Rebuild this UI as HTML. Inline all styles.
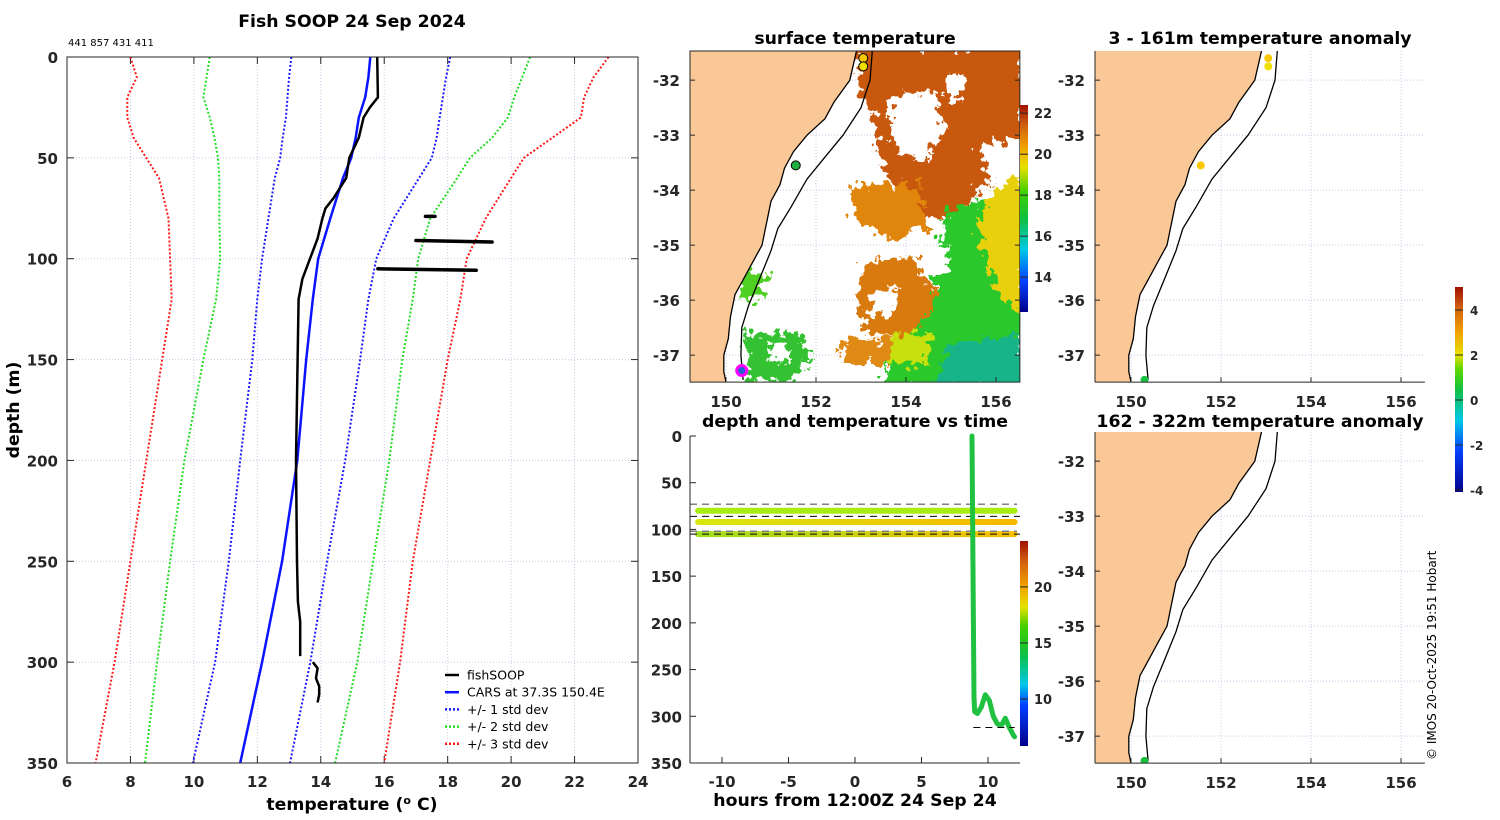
<!DOCTYPE html>
<html><head><meta charset="utf-8">
<style>
html,body{margin:0;padding:0;background:#fff;}
svg{display:block;font-family:"DejaVu Sans","Liberation Sans",sans-serif;}
.tk{font-size:15px;font-weight:bold;fill:#262626;}
.ttl{font-size:17.3px;font-weight:bold;fill:#000;}
</style></head>
<body>
<svg id="fig" width="1500" height="820" viewBox="0 0 1500 820" xmlns="http://www.w3.org/2000/svg">
<defs>
<linearGradient id="sstg" x1="0" y1="1" x2="0" y2="0">
<stop offset="0" stop-color="#00008b"/><stop offset="0.15" stop-color="#0040ff"/><stop offset="0.3" stop-color="#00c8e8"/><stop offset="0.45" stop-color="#10c040"/><stop offset="0.58" stop-color="#40d000"/><stop offset="0.7" stop-color="#e8e000"/><stop offset="0.8" stop-color="#f0a000"/><stop offset="0.9" stop-color="#d06010"/><stop offset="1" stop-color="#a01000"/>
</linearGradient>
<linearGradient id="tg" x1="0" y1="1" x2="0" y2="0">
<stop offset="0" stop-color="#00008b"/><stop offset="0.2" stop-color="#0040ff"/><stop offset="0.3" stop-color="#00c8e8"/><stop offset="0.45" stop-color="#10c040"/><stop offset="0.58" stop-color="#40d000"/><stop offset="0.68" stop-color="#e8e000"/><stop offset="0.78" stop-color="#f0a000"/><stop offset="0.9" stop-color="#d06010"/><stop offset="1" stop-color="#a01000"/>
</linearGradient>
<linearGradient id="ag" x1="0" y1="1" x2="0" y2="0">
<stop offset="0" stop-color="#00008b"/><stop offset="0.2" stop-color="#0040ff"/><stop offset="0.35" stop-color="#00c8e8"/><stop offset="0.5" stop-color="#10c040"/><stop offset="0.6" stop-color="#60d800"/><stop offset="0.67" stop-color="#e8e000"/><stop offset="0.78" stop-color="#f0a000"/><stop offset="0.9" stop-color="#d06010"/><stop offset="1" stop-color="#a01000"/>
</linearGradient>
<filter id="rag" x="0" y="0" width="1" height="1"><feTurbulence type="fractalNoise" baseFrequency="0.12" numOctaves="3" seed="3"/><feDisplacementMap in="SourceGraphic" scale="26" xChannelSelector="R" yChannelSelector="G"/></filter>
<clipPath id="c1"><rect x="690" y="51" width="330" height="331"/></clipPath>
<clipPath id="c3"><rect x="1095" y="51" width="330" height="331"/></clipPath>
<clipPath id="c4"><rect x="1095" y="432" width="330" height="331"/></clipPath>
</defs>

<text x="352" y="27" text-anchor="middle" class="ttl">Fish SOOP 24 Sep 2024</text>
<text x="68" y="46" font-size="10" fill="#000">441 857 431 411</text>
<g id="p1"></g>
<text transform="translate(19,410) rotate(-90)" text-anchor="middle" class="ttl">depth (m)</text>
<text x="352" y="810" text-anchor="middle" class="ttl">temperature (<tspan font-size="11" dy="-6">o</tspan><tspan dy="6"> C)</tspan></text>

<text x="855" y="44" text-anchor="middle" class="ttl">surface temperature</text>
<g id="m1"></g>
<text x="855" y="427" text-anchor="middle" class="ttl">depth and temperature vs time</text>
<g id="p2"></g>
<text x="855" y="806" text-anchor="middle" class="ttl">hours from 12:00Z 24 Sep 24</text>

<text x="1260" y="44" text-anchor="middle" class="ttl">3 - 161m temperature anomaly</text>
<g id="m3"></g>
<text x="1260" y="427" text-anchor="middle" class="ttl">162 - 322m temperature anomaly</text>
<g id="m4"></g>
<g id="acb"></g>
<text transform="translate(1436,760) rotate(-90)" font-size="12" fill="#000">© IMOS 20-Oct-2025 19:51 Hobart</text>
</svg>
<script>
// ---------- data ----------
const depthLevels=[0,10,20,30,40,50,60,80,100,120,150,200,250,300,350];
const carsMean=[15.56,15.5,15.4,15.2,15.1,14.96,14.7,14.3,13.92,13.75,13.54,13.26,12.78,12.15,11.46];
const plus1=[18.08,17.95,17.85,17.75,17.65,17.5,17.1,16.3,15.75,15.5,15.24,14.77,14.2,13.67,13.03];
const minus1=[13.07,13.0,12.95,12.9,12.8,12.72,12.55,12.35,12.15,12.0,11.84,11.46,11.1,10.67,9.97];
const plus2=[20.6,20.35,20.1,19.9,19.4,18.7,18.3,17.45,17.07,16.9,16.57,16.16,15.65,15.15,14.45];
const minus2=[10.5,10.4,10.3,10.5,10.65,10.76,10.8,10.8,10.83,10.7,10.3,9.7,9.25,8.84,8.46];
const plus3=[23.07,22.6,22.3,22.2,21.3,20.4,20.0,19.2,18.6,18.4,18.0,17.45,16.9,16.5,16.0];
const minus3=[8.0,8.2,7.9,7.9,8.1,8.5,8.9,9.2,9.25,9.3,9.0,8.5,8.0,7.5,6.9];
const fishDepth=[0,20,25,30,40,50,60,70,75,80,90,100,110,120,150,200,250,270,280,297];
const fishTemp=[15.78,15.8,15.55,15.35,15.2,14.9,14.8,14.4,14.15,14.05,13.9,13.66,13.42,13.3,13.27,13.22,13.25,13.28,13.35,13.35];
const fishDepth2=[300,303,308,312,316,320];
const fishTemp2=[13.75,13.9,13.85,13.95,13.95,13.9];
const blobDepth=[79,91,105];
const blobT0=[17.3,17.0,15.8];
const blobT1=[17.6,19.4,18.9];
const tempTicks=[6,8,10,12,14,16,18,20,22,24];
const depthTicks=[0,50,100,150,200,250,300,350];
// time panel
const bandDepth=[80,92,105];
const bandColL=["#a8ec10","#d8e810","#a0e020"];
const bandColR=["#a8ec10","#f8b800","#f8c000"];
const castHours=[8.8,8.85,8.9,8.95,9.0,9.2,9.5,9.8,10.1,10.4,10.7,11.0,11.3,11.6,11.9,12.0];
const castDepth=[0,100,200,280,295,297,290,277,283,300,308,310,302,312,320,322];
const dashGray=[73,102];
const dashBlack=[86,105];
const hourTicks=[-10,-5,0,5,10];
// maps
const coastLon=[152.9,152.75,152.4,152.2,151.8,151.5,151.3,151.2,151.0,150.9,150.8,150.6,150.4,150.2,150.1,150.05,149.95,149.95,150.0];
const coastLat=[-31.47,-32.0,-32.4,-32.7,-33.0,-33.3,-33.6,-33.9,-34.2,-34.6,-35.0,-35.3,-35.6,-35.9,-36.3,-36.7,-37.0,-37.3,-37.49];
const shelfLon=[153.25,153.2,153.0,152.6,152.2,151.8,151.45,151.15,151.0,150.75,150.5,150.35,150.33,150.38];
const shelfLat=[-31.47,-32.0,-32.5,-33.0,-33.4,-33.8,-34.3,-34.7,-35.1,-35.6,-36.1,-36.5,-37.0,-37.45];
const lonTicks=[150,152,154,156];
const latTicks=[-32,-33,-34,-35,-36,-37];
const sstTicks=[14,16,18,20,22];
const anomTicks=[-4,-2,0,2,4];
const timeCbTicks=[10,15,20];
const anomLon=[153.05,153.05,151.55,150.3];
const anomLat=[-31.6,-31.75,-33.55,-37.45];
const anomCol=["#f8c800","#f0e000","#f8c800","#18c040"];
const sstStnLon=[153.05,153.05,151.55,150.35];
const sstStnLat=[-31.6,-31.75,-33.55,-37.28];
const sstStnCol=["#f8c800","#f0e000","#20b040","#2060d0"];

// ---------- helpers ----------
const NS="http://www.w3.org/2000/svg";
function mk(parent,tag,attrs){const e=document.createElementNS(NS,tag);for(const k in attrs)e.setAttribute(k,attrs[k]);parent.appendChild(e);return e;}
function txt(parent,x,y,s,anchor,cls){const t=mk(parent,"text",{x:x,y:y,"text-anchor":anchor,"class":cls});t.textContent=s;return t;}

// ---------- profile panel ----------
const p1=document.getElementById("p1");
const xT=t=>67+(t-6)*(571/18);
const yD=d=>57+d*(706/350);
tempTicks.forEach(t=>{
  const g=mk(p1,"line",{x1:xT(t),x2:xT(t),y1:57,y2:763,stroke:"#c8c8e6","stroke-width":1,"stroke-dasharray":"1,2"});
  
  
  mk(p1,"line",{x1:xT(t),x2:xT(t),y1:763,y2:756,stroke:"#262626"});
  mk(p1,"line",{x1:xT(t),x2:xT(t),y1:57,y2:64,stroke:"#262626"});
  const l=txt(p1,xT(t),787,String(t),"middle","tk");
  
  
});
depthTicks.forEach(d=>{
  const g=mk(p1,"line",{x1:67,x2:638,y1:yD(d),y2:yD(d),stroke:"#c8c8e6","stroke-width":1,"stroke-dasharray":"1,2"});
  
  
  mk(p1,"line",{x1:67,x2:74,y1:yD(d),y2:yD(d),stroke:"#262626"});
  mk(p1,"line",{x1:631,x2:638,y1:yD(d),y2:yD(d),stroke:"#262626"});
  const l=txt(p1,58,yD(d)+6,String(d),"end","tk");
  
  
});
function prof(temps,depths,col,w,dash,name){
  const pts=temps.map((t,i)=>xT(t).toFixed(1)+","+yD(depths[i]).toFixed(1)).join(" ");
  const e=mk(p1,"polyline",{points:pts,fill:"none",stroke:col,"stroke-width":w,"stroke-linejoin":"round"});
  if(dash)e.setAttribute("stroke-dasharray",dash);
  
  
}
prof(plus3,depthLevels,"#ff1a1a",2,"2,2","plus3-std-line");
prof(minus3,depthLevels,"#ff1a1a",2,"2,2","minus3-std-line");
prof(plus2,depthLevels,"#22dd22",2,"2,2","plus2-std-line");
prof(minus2,depthLevels,"#22dd22",2,"2,2","minus2-std-line");
prof(plus1,depthLevels,"#1a1aff",2,"2,2","plus1-std-line");
prof(minus1,depthLevels,"#1a1aff",2,"2,2","minus1-std-line");
prof(carsMean,depthLevels,"#0a14ff",2.5,null,"cars-mean-line");
prof(fishTemp,fishDepth,"#000",2.5,null,"fishsoop-line");
prof(fishTemp2,fishDepth2,"#000",2.5,null,"fishsoop-line-deep");
blobDepth.forEach((d,i)=>{
  const e=mk(p1,"line",{x1:xT(blobT0[i]),x2:xT(blobT1[i]),y1:yD(d),y2:yD(d)+(i?1.5:0),stroke:"#000","stroke-width":3.5,"stroke-linecap":"round"});
  
  
});
mk(p1,"rect",{x:67,y:57,width:571,height:706,fill:"none",stroke:"#262626","stroke-width":1});
const legItems=[["fishSOOP","#000",null],["CARS at 37.3S 150.4E","#0a14ff",null],["+/- 1 std dev","#1a1aff","2,2"],["+/- 2 std dev","#22dd22","2,2"],["+/- 3 std dev","#ff1a1a","2,2"]];
const leg=mk(p1,"g",{});


legItems.forEach((it,i)=>{
  const y=675+i*17.2;
  const l=mk(leg,"line",{x1:445,x2:459,y1:y,y2:y,stroke:it[1],"stroke-width":2.5});
  if(it[2])l.setAttribute("stroke-dasharray",it[2]);
  const t=mk(leg,"text",{x:467,y:y+4.5,"font-size":12.5,fill:"#000"});t.textContent=it[0];
  
  
});

// ---------- map helpers ----------
function mapPanel(gid,x0,y0,clip,boxed){
  const g=document.getElementById(gid);
  const X=lon=>x0+(lon-149.2)*45;
  const Y=lat=>y0+(-31.47-lat)*55;
  return {g,X,Y,clip,boxed,x0,y0};
}
function drawMapBase(m,withSst){
  const {g,X,Y}=m;
  const cg=mk(g,"g",{"clip-path":"url(#"+m.clip+")"});
  lonTicks.forEach(l=>{mk(cg,"line",{x1:X(l),x2:X(l),y1:Y(-31.47),y2:Y(-37.49),stroke:"#c8c8e6","stroke-dasharray":"1,2"});});
  latTicks.forEach(l=>{mk(cg,"line",{x1:X(149.2),x2:X(156.53),y1:Y(l),y2:Y(l),stroke:"#c8c8e6","stroke-dasharray":"1,2"});});
  if(withSst)withSst(cg,X,Y);
  let pts=coastLon.map((l,i)=>X(l).toFixed(1)+","+Y(coastLat[i]).toFixed(1)).join(" ");
  const land=mk(cg,"polygon",{points:X(149.2)+","+Y(-31.47)+" "+pts+" "+X(149.2)+","+Y(-37.49),fill:"#fac896",stroke:"none"});
  
  
  const cl=mk(cg,"polyline",{points:pts,fill:"none",stroke:"#000","stroke-width":1.3});
  
  
  const sh=mk(cg,"polyline",{points:shelfLon.map((l,i)=>X(l).toFixed(1)+","+Y(shelfLat[i]).toFixed(1)).join(" "),fill:"none",stroke:"#000","stroke-width":1.3});
  
  
  const x1=X(149.2),x2=X(156.53),y1=Y(-31.47),y2=Y(-37.49);
  if(m.boxed)mk(g,"rect",{x:x1,y:y1,width:x2-x1,height:y2-y1,fill:"none",stroke:"#262626"});
  else{mk(g,"line",{x1:x1,x2:x1,y1:y1,y2:y2,stroke:"#262626"});mk(g,"line",{x1:x1,x2:x2,y1:y2,y2:y2,stroke:"#262626"});}
  lonTicks.forEach(l=>{mk(g,"line",{x1:X(l),x2:X(l),y1:y2,y2:y2-5,stroke:"#262626"});
    const t=txt(g,X(l),y2+25,String(l),"middle","tk");
    
    });
  latTicks.forEach(l=>{mk(g,"line",{x1:x1,x2:x1+5,y1:Y(l),y2:Y(l),stroke:"#262626"});
    if(m.boxed)mk(g,"line",{x1:x2,x2:x2-5,y1:Y(l),y2:Y(l),stroke:"#262626"});
    const t=txt(g,x1-10,Y(l)+6,String(l),"end","tk");
    
    });
  return cg;
}
function poly(cg,X,Y,ll,col,name){
  const e=mk(cg,"polygon",{points:ll.map(p=>X(p[0]).toFixed(1)+","+Y(p[1]).toFixed(1)).join(" "),fill:col});
  
  
}
// SST map
const m1=mapPanel("m1",690,51,"c1",true);
const cg1=drawMapBase(m1,(cg,X,Y)=>{
  const s=mk(cg,"g",{filter:"url(#rag)"});
  poly(s,X,Y,[[152.9,-31.4],[156.6,-31.4],[156.6,-33.4],[155.6,-34.0],[155.1,-34.5],[154.4,-34.5],[153.9,-34.1],[153.4,-33.4],[153.3,-32.7],[153.0,-32.2]],"#c8580e","sst-warm-region");
  poly(s,X,Y,[[152.8,-33.9],[154.3,-33.9],[154.5,-34.7],[153.6,-34.9],[152.8,-34.5]],"#e0860e","sst-orange-patch");
  poly(s,X,Y,[[153.1,-35.3],[154.2,-35.2],[154.7,-36.0],[154.3,-36.8],[153.2,-36.6],[152.9,-36.2]],"#d87a10","sst-orange-patch");
  poly(s,X,Y,[[152.5,-36.7],[153.9,-36.7],[153.9,-37.2],[152.6,-37.1]],"#e08a12","sst-orange-patch");
  poly(s,X,Y,[[155.0,-34.3],[156.6,-34.0],[156.6,-37.6],[153.5,-37.6],[153.7,-36.9],[154.6,-36.2],[154.6,-35.3]],"#2cc82c","sst-green-region");
  poly(s,X,Y,[[155.9,-34.0],[156.6,-33.7],[156.6,-36.3],[156.0,-35.8],[155.6,-34.8]],"#e8d010","sst-yellow-band");
  poly(s,X,Y,[[155.0,-36.8],[156.6,-36.6],[156.6,-37.6],[154.6,-37.6]],"#18b488","sst-teal-patch");
  poly(s,X,Y,[[153.7,-36.6],[154.6,-36.6],[154.4,-37.2],[153.6,-37.1]],"#c8e010","sst-yellow-patch");
  poly(s,X,Y,[[150.4,-36.6],[151.6,-36.6],[151.9,-37.0],[151.4,-37.5],[150.5,-37.5]],"#34c232","sst-green-patch");
  poly(s,X,Y,[[150.3,-35.4],[150.9,-35.5],[150.8,-36.0],[150.3,-35.9]],"#50d020","sst-green-patch");
  // cloud gaps (white)
  poly(s,X,Y,[[153.6,-32.3],[154.6,-32.2],[154.9,-32.9],[154.4,-33.5],[153.7,-33.2]],"#ffffff","cloud-gap");
  poly(s,X,Y,[[154.9,-31.9],[155.3,-31.9],[155.2,-32.4],[154.9,-32.3]],"#ffffff","cloud-gap");
  poly(s,X,Y,[[155.6,-33.2],[156.6,-33.0],[156.6,-33.8],[155.9,-33.9]],"#ffffff","cloud-gap");
  poly(s,X,Y,[[153.2,-35.9],[153.8,-35.8],[153.7,-36.3],[153.2,-36.3]],"#ffffff","cloud-gap");
  poly(s,X,Y,[[154.2,-35.0],[155.0,-35.0],[154.9,-35.5],[154.3,-35.6]],"#ffffff","cloud-gap");
  poly(s,X,Y,[[151.0,-36.8],[151.4,-36.8],[151.4,-37.1],[151.0,-37.1]],"#ffffff","cloud-gap");
});
sstStnLon.forEach((l,i)=>{
  const c=mk(cg1,"circle",{cx:m1.X(l),cy:m1.Y(sstStnLat[i]),r:i==3?5:4.5,fill:sstStnCol[i],stroke:i==3?"#ff00ff":"#000","stroke-width":i==3?3:1});
  
  
});
// SST colorbar
(function(){
  const g=mk(document.getElementById("m1"),"g",{});
  
  
  const yS=t=>312-(t-12.3)*(207/10.1);
  mk(g,"rect",{x:1020,y:105,width:8,height:207,fill:"url(#sstg)"});
  sstTicks.forEach(t=>{mk(g,"line",{x1:1020,x2:1028,y1:yS(t),y2:yS(t),stroke:"#262626"});
    const l=mk(g,"text",{x:1034,y:yS(t)+5,"font-size":13,"font-weight":"bold",fill:"#262626"});l.textContent=t;});
})();

// ---------- time panel ----------
const p2=document.getElementById("p2");
const xH=h=>855+h*(66.5/5);
const yT=d=>436+d*(327/350);
hourTicks.forEach(h=>{mk(p2,"line",{x1:xH(h),x2:xH(h),y1:763,y2:757,stroke:"#262626"});
  const t=txt(p2,xH(h),787,String(h),"middle","tk");
  
  });
depthTicks.forEach(d=>{mk(p2,"line",{x1:690,x2:696,y1:yT(d),y2:yT(d),stroke:"#262626"});
  const t=txt(p2,682,yT(d)+6,String(d),"end","tk");
  
  });
bandDepth.forEach((d,i)=>{
  const gid="bg"+i;
  const lg=mk(document.querySelector("defs"),"linearGradient",{id:gid,x1:0,x2:1,y1:0,y2:0});
  mk(lg,"stop",{offset:0,"stop-color":bandColL[i]});mk(lg,"stop",{offset:1,"stop-color":bandColR[i]});
  const e=mk(p2,"line",{x1:xH(-11.8),x2:xH(12.0),y1:yT(d),y2:yT(d)+0.01,stroke:"url(#"+gid+")","stroke-width":6,"stroke-linecap":"round"});
  
  
});
dashGray.forEach(d=>{const e=mk(p2,"line",{x1:690,x2:1017,y1:yT(d),y2:yT(d),stroke:"#808080","stroke-width":1.5,"stroke-dasharray":"7,5"});
  });
dashBlack.forEach(d=>{const e=mk(p2,"line",{x1:690,x2:1020,y1:yT(d),y2:yT(d),stroke:"#000","stroke-width":1,"stroke-dasharray":"7,5"});
  });
const cast=mk(p2,"polyline",{points:castHours.map((h,i)=>xH(h).toFixed(1)+","+yT(castDepth[i]).toFixed(1)).join(" "),fill:"none",stroke:"#20c040","stroke-width":5,"stroke-linejoin":"round","stroke-linecap":"round"});


mk(p2,"line",{x1:xH(8.9),x2:xH(12),y1:yT(312),y2:yT(312),stroke:"#000","stroke-dasharray":"7,5"});
mk(p2,"line",{x1:690,x2:690,y1:436,y2:763,stroke:"#262626"});
mk(p2,"line",{x1:690,x2:1020,y1:763,y2:763,stroke:"#262626"});
(function(){
  const g=mk(p2,"g",{});
  
  
  const yC=t=>746-(t-5.8)*(205/18.3);
  mk(g,"rect",{x:1020,y:541,width:8,height:205,fill:"url(#tg)"});
  timeCbTicks.forEach(t=>{mk(g,"line",{x1:1020,x2:1028,y1:yC(t),y2:yC(t),stroke:"#262626"});
    const l=mk(g,"text",{x:1034,y:yC(t)+5,"font-size":13,"font-weight":"bold",fill:"#262626"});l.textContent=t;});
})();

// ---------- anomaly maps ----------
const m3=mapPanel("m3",1095,51,"c3",false);
const cg3=drawMapBase(m3,null);
anomLon.forEach((l,i)=>{const c=mk(cg3,"circle",{cx:m3.X(l),cy:m3.Y(anomLat[i]),r:4,fill:anomCol[i]});
  });
const m4=mapPanel("m4",1095,432,"c4",false);
const cg4=drawMapBase(m4,null);
{const c=mk(cg4,"circle",{cx:m4.X(anomLon[3]),cy:m4.Y(anomLat[3]),r:4,fill:anomCol[3]});
  }
(function(){
  const g=document.getElementById("acb");
  const yA=v=>400-v*22.5;
  mk(g,"rect",{x:1455,y:287,width:8,height:205,fill:"url(#ag)"});
  anomTicks.forEach(v=>{mk(g,"line",{x1:1455,x2:1463,y1:yA(v),y2:yA(v),stroke:"#262626"});
    const l=mk(g,"text",{x:1470,y:yA(v)+5,"font-size":12,"font-weight":"bold",fill:"#262626"});l.textContent=v;});
})();
</script>
</body></html>
